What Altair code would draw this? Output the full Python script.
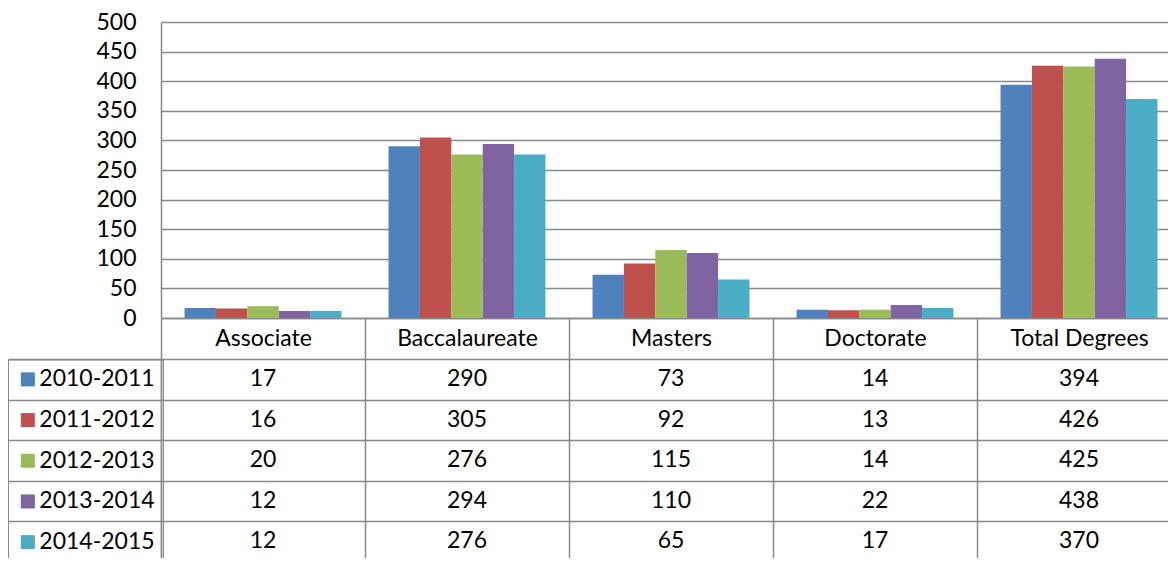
import altair as alt
import pandas as pd

categories = ["Associate", "Baccalaureate", "Masters", "Doctorate", "Total Degrees"]
series = ["2010-2011", "2011-2012", "2012-2013", "2013-2014", "2014-2015"]
colors = ["#4F81BD", "#C0504D", "#9BBB59", "#8064A2", "#4BACC6"]
v_2010_2011 = [17, 290, 73, 14, 394]
v_2011_2012 = [16, 305, 92, 13, 426]
v_2012_2013 = [20, 276, 115, 14, 425]
v_2013_2014 = [12, 294, 110, 22, 438]
v_2014_2015 = [12, 276, 65, 17, 370]
y_ticks = [0, 50, 100, 150, 200, 250, 300, 350, 400, 450, 500]

all_values = [v_2010_2011, v_2011_2012, v_2012_2013, v_2013_2014, v_2014_2015]
rows = []
for s, vals in zip(series, all_values):
    for c, v in zip(categories, vals):
        rows.append({"category": c, "period": s, "value": v})
df = pd.DataFrame(rows)

FONT = "Lato"
FS = 23
GRID = "#898989"
GW = 1.5
W = 1020
H_TOP = 296
HEADER = 41
H_TAB = 202.5
ROWHDR = 153

xscale = alt.Scale(domain=categories, paddingInner=0, paddingOuter=0)

bars = alt.Chart(df).mark_bar().encode(
    x=alt.X("category:N", scale=xscale, sort=categories, title=None,
            axis=alt.Axis(tickBand="extent", ticks=True, tickSize=HEADER, tickColor=GRID, tickWidth=GW,
                          domain=True, domainColor=GRID, domainWidth=GW, grid=False,
                          labelAngle=0, labelFont=FONT, labelFontSize=FS, labelColor="black",
                          labelPadding=-21, labelBaseline="middle", labelLimit=400)),
    xOffset=alt.XOffset("period:N", sort=series,
                        scale=alt.Scale(domain=series, paddingInner=0, paddingOuter=0.75)),
    y=alt.Y("value:Q", scale=alt.Scale(domain=[0, 500]), title=None,
            axis=alt.Axis(values=y_ticks, grid=True, gridColor=GRID, gridWidth=GW,
                          domain=True, domainColor=GRID, domainWidth=GW, ticks=False,
                          labelFont=FONT, labelFontSize=FS, labelColor="black", labelPadding=25)),
    color=alt.Color("period:N", sort=series, scale=alt.Scale(domain=series, range=colors),
                    legend=alt.Legend(orient="none", legendX=-ROWHDR, legendY=H_TOP + HEADER + 0.5,
                                      title=None,
                                      symbolType="square", symbolSize=196, symbolStrokeWidth=0,
                                      labelFont=FONT, labelFontSize=FS, labelColor="black",
                                      labelOffset=0, padding=8.35, rowPadding=16.7,
                                      strokeColor=GRID, direction="vertical")),
).properties(width=W, height=H_TOP)

table = alt.Chart(df).mark_text(font=FONT, fontSize=FS, color="black", baseline="middle").encode(
    x=alt.X("category:N", scale=xscale, sort=categories, title=None,
            axis=alt.Axis(labels=False, ticks=False, domain=False, grid=True,
                          gridColor=GRID, gridWidth=GW, tickBand="extent")),
    y=alt.Y("period:N", sort=series, title=None,
            scale=alt.Scale(domain=series, paddingInner=0, paddingOuter=0),
            axis=alt.Axis(labels=False, ticks=True, tickSize=ROWHDR, tickColor=GRID, tickWidth=GW,
                          domain=True, domainColor=GRID, domainWidth=GW, grid=True,
                          gridColor=GRID, gridWidth=GW, tickBand="extent")),
    text="value:Q",
).properties(width=W, height=H_TAB)

chart = alt.vconcat(bars, table, spacing=HEADER, bounds="flush").properties(
    padding={"left": -2, "top": 2, "right": -15, "bottom": -6}
).configure_view(strokeWidth=0).configure_legend(strokeWidth=GW).configure(font=FONT)

chart.save("out.html", embed_options={"renderer": "svg", "actions": False})
